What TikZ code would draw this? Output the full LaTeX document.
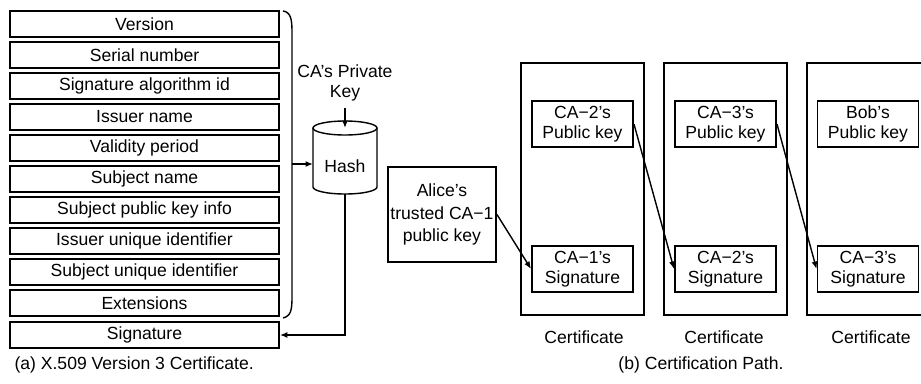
\documentclass[tikz,border=0pt]{standalone}
\usepackage{fontspec}
\setmainfont{Liberation Sans}
\usepackage{tikz}
\usetikzlibrary{arrows.meta}

\tikzset{
    field/.style={draw,line width=1.1pt,minimum width=5.38cm,minimum height=0.52cm,inner sep=0pt},
    keybox/.style={draw,line width=1.1pt,minimum width=2.02cm,minimum height=0.92cm,inner sep=0pt,align=center,font=\linespread{0.95}\selectfont},
    certbox/.style={draw,line width=1.1pt,minimum width=2.46cm,minimum height=5.04cm,inner sep=0pt},
}

\begin{document}
\begin{tikzpicture}[x=0.02cm,y=-0.02cm,>={Latex[length=1.5mm,width=1.2mm]},line width=0.8pt]
    \useasboundingbox (0,0) rectangle (921,383);
    % (a) certificate fields
    \node[field] (version) at (144.5,24) {Version};
    \node[field] (serial) at (144.5,55) {Serial number};
    \node[field] (sigalg) at (144.5,86) {Signature algorithm id};
    \node[field] (issuer) at (144.5,117) {Issuer name};
    \node[field] (validity) at (144.5,148) {Validity period};
    \node[field] (subject) at (144.5,179) {Subject name};
    \node[field] (pubinfo) at (144.5,210) {Subject public key info};
    \node[field] (issuerid) at (144.5,241) {Issuer unique identifier};
    \node[field] (subjectid) at (144.5,272) {Subject unique identifier};
    \node[field] (ext) at (144.5,303) {Extensions};
    \node[field] (sig) at (144.5,335) {Signature};
    \draw (283,11) .. controls (291,12) and (292,20) .. (292,32) -- (292,297)
        .. controls (292,310) and (291,316) .. (283,318);
    \coordinate (brace) at (292,164);
    % hash cylinder
    \draw (313,128) -- (313,187) arc[start angle=180,end angle=360,x radius=0.64cm,y radius=0.14cm] -- (377,128);
    \draw (345,128) ellipse[x radius=0.64cm,y radius=0.14cm];
    \node (hash) at (345,166) {Hash};
    \coordinate (cyltop) at (345,128);
    \coordinate (cylbot) at (345,194);
    \node[align=center,font=\linespread{0.95}\selectfont] (privkey) at (345,83) {CA's Private\\Key};
    \draw[->] (brace) -- (313,164);
    \draw[->] (privkey.south) -- (cyltop);
    \draw[->] (cylbot) |- (sig.east);
    % (b) certification path
    \node[draw,line width=1.1pt,minimum width=2.16cm,minimum height=1.9cm,inner sep=0pt,align=center,
        font=\linespread{1.05}\selectfont] (alice) at (442,214.5) {Alice's\\trusted CA−1\\public key};
    \node[certbox] (cert1) at (582.5,189) {};
    \node[certbox] (cert2) at (725.5,189) {};
    \node[certbox] (cert3) at (868.5,189) {};
    \node[keybox] (pub1) at (582.5,124) {CA−2's\\Public key};
    \node[keybox] (pub2) at (725.5,124) {CA−3's\\Public key};
    \node[keybox] (pub3) at (868,124) {Bob's\\Public key};
    \node[keybox] (sig1) at (582.5,269) {CA−1's\\Signature};
    \node[keybox] (sig2) at (725.5,269) {CA−2's\\Signature};
    \node[keybox] (sig3) at (868,269) {CA−3's\\Signature};
    \draw[->] (alice.east) -- (sig1.west);
    \draw[->] (pub1.east) -- (sig2.west);
    \draw[->] (pub2.east) -- (sig3.west);
    \node (lab1) at (584,337) {Certificate};
    \node (lab2) at (724,337) {Certificate};
    \node (lab3) at (871,337) {Certificate};
    % captions
    \node[anchor=west] (capa) at (8,365) {(a) X.509 Version 3 Certificate.};
    \node (capb) at (701,365) {(b) Certification Path.};
\end{tikzpicture}
\end{document}
